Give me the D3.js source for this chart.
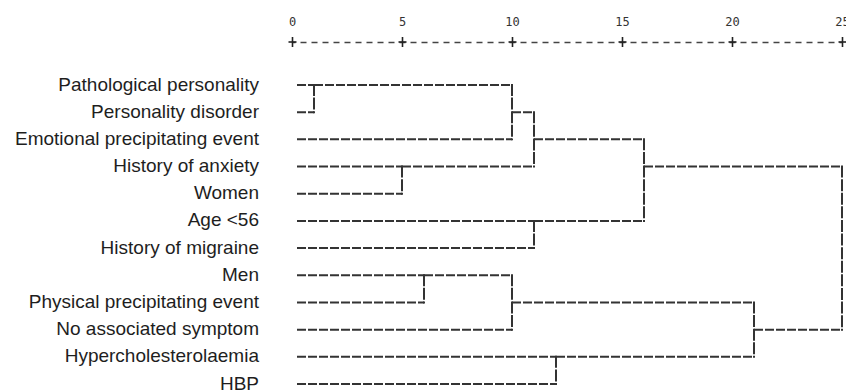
<!DOCTYPE html>
<html>
<head>
<meta charset="utf-8">
<script src="https://cdn.jsdelivr.net/npm/d3@7"></script>
<style>
  body { margin: 0; background: #fff; }
</style>
</head>
<body>
<script>
// leaves, top to bottom
var etiquetas = [
    "Pathological personality",
    "Personality disorder",
    "Emotional precipitating event",
    "History of anxiety",
    "Women",
    "Age <56",
    "History of migraine",
    "Men",
    "Physical precipitating event",
    "No associated symptom",
    "Hypercholesterolaemia",
    "HBP"
];

// merges: [cluster a, cluster b, rescaled distance]; new cluster id = 12, 13, ...
var uniones = [
    [0, 1, 1],
    [3, 4, 5],
    [7, 8, 6],
    [12, 2, 10],
    [14, 9, 10],
    [15, 13, 11],
    [5, 6, 11],
    [10, 11, 12],
    [17, 18, 16],
    [16, 19, 21],
    [20, 21, 25]
];

var marcas = [0, 5, 10, 15, 20, 25];

var ancho = 846;
var altura = 392;

var svg = d3.select("body")
    .append("svg")
    .attr("width", ancho)
    .attr("height", altura);

var escalaX = d3.scaleLinear()
    .domain([0, 25])
    .range([292, 842]);

var escalaY = d3.scaleLinear()
    .domain([0, etiquetas.length - 1])
    .range([85, 384]);

// axis on top, SPSS style "+----+"
var ejeX = d3.axisTop(escalaX)
    .tickValues(marcas)
    .tickSize(0)
    .tickPadding(16)
    .tickFormat(d3.format("d"));

var gEje = svg.append("g")
    .attr("transform", "translate(0,42)")
    .call(ejeX);

gEje.select(".domain")
    .attr("stroke", "#444")
    .attr("stroke-width", 1.5)
    .attr("stroke-dasharray", "6,5")
    .attr("stroke-dashoffset", -8);

gEje.selectAll(".tick line")
    .attr("y1", -5)
    .attr("y2", 5)
    .attr("stroke", "#222")
    .attr("stroke-width", 1.6);

gEje.selectAll(".tick")
    .append("line")
    .attr("x1", -4)
    .attr("x2", 4)
    .attr("stroke", "#222")
    .attr("stroke-width", 1.6);

gEje.selectAll(".tick text")
    .style("font-family", "'DejaVu Sans Mono', monospace")
    .style("font-size", "12px")
    .attr("fill", "#333");

// labels
svg.append("g")
    .selectAll("text")
    .data(etiquetas)
    .enter()
    .append("text")
    .attr("x", 259)
    .attr("y", function (d, i) { return escalaY(i) + 5.5; })
    .attr("text-anchor", "end")
    .style("font-family", "'Liberation Sans', Arial, sans-serif")
    .style("font-size", "19px")
    .attr("fill", "#1e1e1e")
    .text(function (d) { return d; });

// build cluster positions
var nodos = etiquetas.map(function (d, i) {
    return { fila: i, x: escalaX(0) + 5 };
});

var horizontales = [];
var verticales = [];

uniones.forEach(function (u) {
    var a = nodos[u[0]], b = nodos[u[1]];
    var xm = escalaX(u[2]);
    horizontales.push({ x1: a.x, x2: xm, fila: a.fila });
    horizontales.push({ x1: b.x, x2: xm, fila: b.fila });
    verticales.push({ x: xm, f1: Math.min(a.fila, b.fila), f2: Math.max(a.fila, b.fila) });
    nodos.push({ fila: Math.floor((a.fila + b.fila) / 2), x: xm });
});

var gArbol = svg.append("g")
    .attr("stroke", "#333")
    .attr("stroke-width", 2)
    .attr("fill", "none");

gArbol.selectAll("line.h")
    .data(horizontales)
    .enter()
    .append("line")
    .attr("class", "h")
    .attr("x1", function (d) { return d.x1; })
    .attr("x2", function (d) { return d.x2; })
    .attr("y1", function (d) { return escalaY(d.fila); })
    .attr("y2", function (d) { return escalaY(d.fila); })
    .attr("stroke-dasharray", "9,2");

gArbol.selectAll("line.v")
    .data(verticales)
    .enter()
    .append("line")
    .attr("class", "v")
    .attr("x1", function (d) { return d.x; })
    .attr("x2", function (d) { return d.x; })
    .attr("y1", function (d) { return escalaY(d.f1) - 1; })
    .attr("y2", function (d) { return escalaY(d.f2) + 1; })
    .attr("stroke-dasharray", "12,1.6");
</script>
</body>
</html>
